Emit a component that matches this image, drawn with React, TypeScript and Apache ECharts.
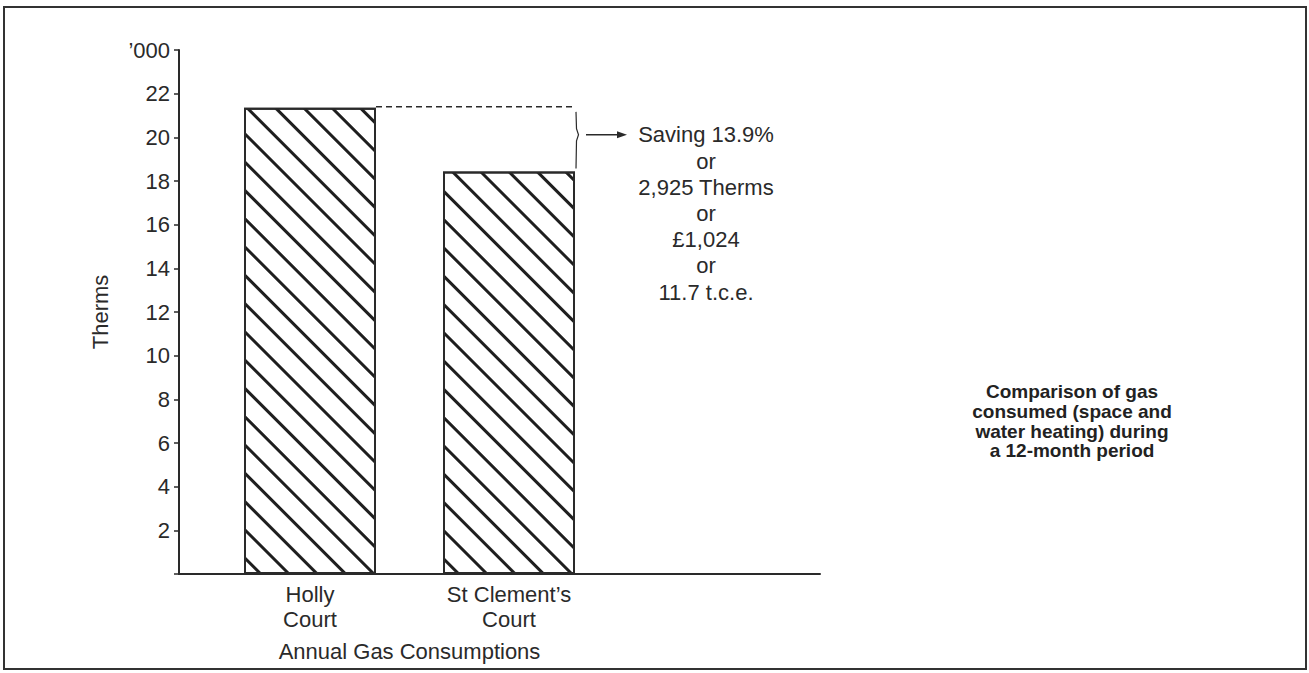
import React, { useEffect, useRef } from "react";
import * as echarts from "echarts";

// ---- data ----
const categories = ["Holly\nCourt", "St Clement’s\nCourt"];
const consumption = [21.35, 18.43]; // thousand therms per year
const yMax = 24;
const yInterval = 2;
const topTickLabel = "’000";
const yAxisName = "Therms";
const xAxisName = "Annual Gas Consumptions";
const savingLines = ["Saving 13.9%", "or", "2,925 Therms", "or", "£1,024", "or", "11.7 t.c.e."];
const titleLines = ["Comparison of gas", "consumed (space and", "water heating) during", "a 12-month period"];

const FONT = "'Liberation Sans', Arial, Helvetica, sans-serif";
const INK = "#2a2a2a";
const BAR_W = 132;

export default function App() {
  const ref = useRef<HTMLDivElement>(null);
  useEffect(() => {
    if (!ref.current) return;
    const chart = echarts.init(ref.current, undefined, { renderer: "svg" });
    const lineStyle = { color: INK, width: 2 };
    chart.setOption({
      animation: false,
      backgroundColor: "#fff",
      grid: [
        { left: 179, top: 50, width: 641, height: 524 },
        { left: 210.5, top: 50, width: 398, height: 524 },
      ],
      xAxis: [
        {
          gridIndex: 0, type: "value", min: 0, max: 1,
          axisLine: { show: true, onZero: false, lineStyle },
          axisTick: { show: false }, axisLabel: { show: false }, splitLine: { show: false },
        },
        {
          gridIndex: 1, type: "category", data: categories,
          axisLine: { show: false }, axisTick: { show: false }, splitLine: { show: false },
          axisLabel: { fontSize: 22, lineHeight: 25, color: INK, fontFamily: FONT, margin: 8 },
          name: xAxisName, nameLocation: "middle", nameGap: 66,
          nameTextStyle: { fontSize: 22, color: INK, fontFamily: FONT },
        },
      ],
      yAxis: [
        {
          gridIndex: 0, type: "value", min: 0, max: yMax, interval: yInterval,
          axisLine: { show: true, lineStyle },
          axisTick: { show: true, length: 5, lineStyle: { color: INK, width: 1.5 } },
          axisLabel: {
            fontSize: 22, color: INK, fontFamily: FONT, margin: 9,
            formatter: (v: number) => (v === yMax ? topTickLabel : v === 0 ? "" : String(v)),
          },
          splitLine: { show: false },
          name: yAxisName, nameLocation: "middle", nameGap: 68, nameRotate: 90,
          nameTextStyle: { fontSize: 22, color: INK, fontFamily: FONT },
        },
        { gridIndex: 1, type: "value", min: 0, max: yMax, show: false },
      ],
      series: [
        {
          type: "bar", xAxisIndex: 1, yAxisIndex: 1, data: consumption, barWidth: BAR_W,
          itemStyle: {
            color: "#fff", borderColor: INK, borderWidth: 2,
            decal: {
              symbol: "rect", symbolSize: 1, color: "#1e1e1e", backgroundColor: "#fff",
              dashArrayX: [1, 0], dashArrayY: [2.6, 16.6], rotation: Math.PI / 4,
            },
          },
        },
      ],
    });

    const [hx, hy] = chart.convertToPixel({ xAxisIndex: 1, yAxisIndex: 1 }, [0, consumption[0]]) as number[];
    const [sx, sy] = chart.convertToPixel({ xAxisIndex: 1, yAxisIndex: 1 }, [1, consumption[1]]) as number[];
    const half = BAR_W / 2;
    const bx = sx + half + 1;
    const midY = (hy + sy) / 2;
    const arrowY = midY - 5;

    chart.setOption({
      graphic: [
        {
          type: "rect", shape: { x: 4, y: 7, width: 1302, height: 662 },
          style: { fill: "none", stroke: "#333", lineWidth: 2 },
        },
        {
          type: "line", shape: { x1: hx + half, y1: hy - 1, x2: bx, y2: hy - 1 },
          style: { stroke: INK, lineWidth: 1.5, lineDash: [6, 4] },
        },
        {
          type: "polyline",
          shape: { points: [[bx, hy + 4], [bx + 0.5, arrowY - 6], [bx + 2.5, arrowY], [bx + 0.5, arrowY + 6], [bx, sy - 3]] },
          style: { stroke: INK, lineWidth: 1.2, fill: null },
        },
        {
          type: "line", shape: { x1: bx + 10, y1: arrowY, x2: bx + 44, y2: arrowY },
          style: { stroke: INK, lineWidth: 1.5 },
        },
        {
          type: "polygon", shape: { points: [[bx + 51, arrowY], [bx + 41, arrowY - 3.5], [bx + 41, arrowY + 3.5]] },
          style: { fill: INK },
        },
        {
          type: "text", x: bx + 130, y: arrowY - 13,
          style: {
            text: savingLines.join("\n"), fontSize: 22, lineHeight: 26.2, fill: INK,
            fontFamily: FONT, align: "center", verticalAlign: "top",
          },
        },
        {
          type: "text", x: 1072, y: 382,
          style: {
            text: titleLines.join("\n"), fontSize: 19, fontWeight: "bold", lineHeight: 19.7, fill: "#222",
            fontFamily: FONT, align: "center", verticalAlign: "top",
          },
        },
      ],
    });

    return () => chart.dispose();
  }, []);
  return <div ref={ref} style={{ position: "fixed", left: 0, top: 0, width: 1309, height: 673 }} />;
}
